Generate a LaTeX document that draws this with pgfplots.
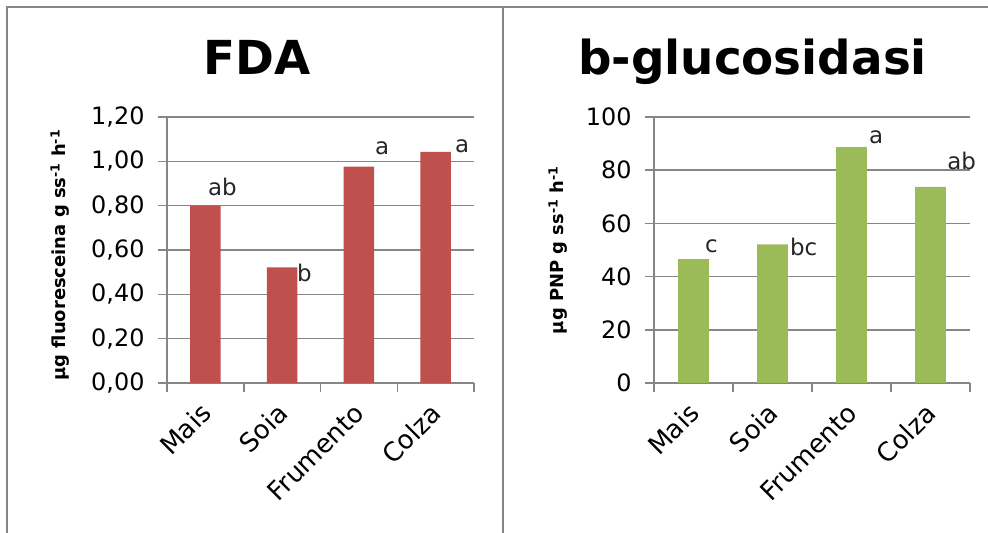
\documentclass[border=0pt]{standalone}
\usepackage{fontspec}
\setmainfont{DejaVu Sans}
\usepackage{pgfplots}
\pgfplotsset{compat=1.18}
\definecolor{fdared}{HTML}{C0504D}
\definecolor{glugreen}{HTML}{9BBB59}
\definecolor{axgray}{HTML}{868686}
\tikzset{lett/.style={anchor=base west, inner sep=0pt, font=\fontsize{23}{26}\selectfont, text=black!85}}
\begin{document}
\begin{tikzpicture}
\path[use as bounding box] (0,0) rectangle (988bp,533bp);
\pgfplotsset{
 panel/.style={
  scale only axis, anchor=south west, clip=false,
  height=266bp, ymin=0,
  xmin=-0.5, xmax=3.5,
  axis x line*=bottom, axis y line*=left,
  axis line style={axgray, line width=1.5bp},
  xtick={0,1,2,3},
  xticklabels={Mais,Soia,Frumento,Colza},
  minor xtick={-0.5,0.5,1.5,2.5,3.5},
  major x tick style={draw=none},
  minor x tick style={axgray, line width=1.5bp},
  ytick style={axgray, line width=1.5bp},
  tick align=outside,
  major tick length=9bp, minor tick length=9bp,
  ymajorgrids, grid style={axgray, line width=1.5bp},
  yticklabel style={font=\fontsize{24}{28}\selectfont, xshift=-10bp},
  xticklabel style={font=\fontsize{26}{28}\selectfont, yshift=-14bp, xshift=3bp, rotate=45, anchor=east},
  /pgf/number format/assume math mode=true,
  ybar, bar width=0.4,
 },
}
\begin{axis}[panel, width=307bp, at={(167bp,150bp)}, ymax=1.2,
  ytick={0,0.2,0.4,0.6,0.8,1.0,1.2},
  yticklabel style={/pgf/number format/.cd, fixed, fixed zerofill, precision=2, use comma}]
\addplot[fill=fdared, draw=none] coordinates {(0,0.80) (1,0.522) (2,0.976) (3,1.043)};
\node[lett] at (axis cs:0.034,0.848) {ab};
\node[lett] at (axis cs:1.194,0.456) {b};
\node[lett] at (axis cs:2.21,1.033) {a};
\node[lett] at (axis cs:3.252,1.042) {a};
\end{axis}
\begin{axis}[panel, width=316bp, at={(654bp,150bp)}, ymax=100,
  ytick={0,20,40,60,80,100}, bar width=0.39]
\addplot[fill=glugreen, draw=none] coordinates {(0,46.6) (1,52.1) (2,88.7) (3,73.7)};
\node[lett] at (axis cs:0.146,48.9) {c};
\node[lett] at (axis cs:1.22,48.1) {bc};
\node[lett] at (axis cs:2.22,90.2) {a};
\node[lett] at (axis cs:3.21,80.1) {ab};
\end{axis}
\node[font=\bfseries\fontsize{47}{50}\selectfont, anchor=base] at (257bp,458bp) {FDA};
\node[font=\bfseries\fontsize{47}{50}\selectfont, anchor=base] at (752.5bp,458bp) {b-glucosidasi};
\node[rotate=90, font=\bfseries\fontsize{18}{20}\selectfont] at (60bp,278bp) {µg fluoresceina g ss\textsuperscript{-1} h\textsuperscript{-1}};
\node[rotate=90, font=\bfseries\fontsize{18}{20}\selectfont] at (558bp,283bp) {µg PNP g ss\textsuperscript{-1} h\textsuperscript{-1}};
\draw[axgray, line width=2bp] (7bp,0bp) -- (7bp,526bp) -- (988bp,526bp);
\draw[axgray, line width=2bp] (503bp,0bp) -- (503bp,526bp);
\end{tikzpicture}
\end{document}
